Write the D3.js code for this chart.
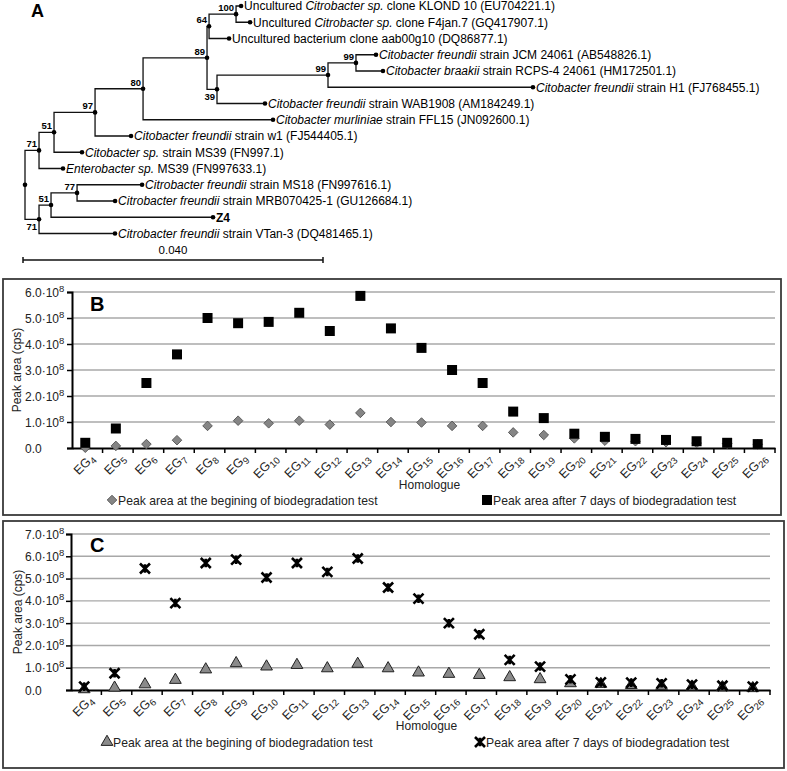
<!DOCTYPE html>
<html>
<head>
<meta charset="utf-8">
<script src="https://cdn.jsdelivr.net/npm/d3@7"></script>
<style>
  body { margin: 0; background: #fff; }
  svg { font-family: "Liberation Sans", Arial, sans-serif; }
</style>
</head>
<body>
<div id="vis"></div>
<script>
const W = 787, H = 771;

// ---- panel A: tree ----
// leaf labels as [plain, italic, plain]
const leafLabels = {
  klond: ['Uncultured ', 'Citrobacter sp.', ' clone KLOND 10 (EU704221.1)'],
  f4jan: ['Uncultured ', 'Citrobacter sp.', ' clone F4jan.7 (GQ417907.1)'],
  aab: ['Uncultured bacterium clone aab00g10 (DQ86877.1)', '', ''],
  jcm: ['', 'Citobacter freundii', ' strain JCM 24061 (AB548826.1)'],
  braakii: ['', 'Citobacter braakii', ' strain RCPS-4 24061 (HM172501.1)'],
  h1: ['', 'Citobacter freundii', ' strain H1 (FJ768455.1)'],
  wab: ['', 'Citobacter freundii', ' strain WAB1908 (AM184249.1)'],
  murliniae: ['', 'Citobacter murliniae', ' strain FFL15 (JN092600.1)'],
  w1: ['', 'Citobacter freundii', ' strain w1 (FJ544405.1)'],
  ms39: ['', 'Citobacter sp.', ' strain MS39 (FN997.1)'],
  entero: ['', 'Enterobacter sp.', ' MS39 (FN997633.1)'],
  ms18: ['', 'Citrobacter freundii', ' strain MS18 (FN997616.1)'],
  mrb: ['', 'Citrobacter freundii', ' strain MRB070425-1 (GU126684.1)'],
  z4: ['Z4', '', ''],
  vtan: ['', 'Citrobacter freundii', ' strain VTan-3 (DQ481465.1)']
}
const leafOrder = ['klond', 'f4jan', 'aab', 'jcm', 'braakii', 'h1', 'wab', 'murliniae',
  'w1', 'ms39', 'entero', 'ms18', 'mrb', 'z4', 'vtan']

// branch lengths (substitutions/site) and bootstrap values
const tree = { id: 'root', len: 0, children: [
  { id: 'n71a', len: 0.00187, boot: 71, children: [
    { id: 'n51a', len: 0.0020, boot: 51, children: [
      { id: 'n97', len: 0.00547, boot: 97, children: [
        { id: 'n80', len: 0.0064, boot: 80, children: [
          { id: 'n89', len: 0.00853, boot: 89, children: [
            { id: 'n64', len: 0.00027, boot: 64, children: [
              { id: 'n100', len: 0.0036, boot: 100, children: [
                { id: 'klond', len: 0.00067 },
                { id: 'f4jan', len: 0.00187 }]},
              { id: 'aab', len: 0.00267 }]},
            { id: 'n39', len: 0.00133, boot: 39, children: [
              { id: 'n99a', len: 0.0148, boot: 99, children: [
                { id: 'n99b', len: 0.00373, boot: 99, children: [
                  { id: 'jcm', len: 0.00267 },
                  { id: 'braakii', len: 0.0036 }]},
                { id: 'h1', len: 0.02733 }]},
              { id: 'wab', len: 0.0064 }]}]},
          { id: 'murliniae', len: 0.01733 }]},
        { id: 'w1', len: 0.0048 }]},
      { id: 'ms39', len: 0.00373 }]},
    { id: 'entero', len: 0.0032 }]},
  { id: 'n71b', len: 0.00187, boot: 71, children: [
    { id: 'n51b', len: 0.0016, boot: 51, children: [
      { id: 'n77', len: 0.00347, boot: 77, children: [
        { id: 'ms18', len: 0.00867 },
        { id: 'mrb', len: 0.00507 }]},
      { id: 'z4', len: 0.0216 }]},
    { id: 'vtan', len: 0.01013 }]}
]}
const scaleBarValue = 0.04

// ---- panels B and C: homologue peak areas (units of 10^8 cps) ----
const homologues = ['4', '5', '6', '7', '8', '9', '10', '11', '12', '13', '14', '15',
  '16', '17', '18', '19', '20', '21', '22', '23', '24', '25', '26']
const startB = [0.01, 0.08, 0.15, 0.30, 0.85, 1.05, 0.95, 1.05, 0.90, 1.35, 1.00, 0.98,
  0.85, 0.85, 0.60, 0.50, 0.37, 0.28, 0.26, 0.22, 0.19, 0.17, 0.14]
const afterB = [0.20, 0.75, 2.50, 3.60, 5.00, 4.80, 4.85, 5.20, 4.50, 5.85, 4.60, 3.85,
  3.00, 2.50, 1.40, 1.15, 0.55, 0.43, 0.35, 0.31, 0.26, 0.20, 0.15]
const startC = [0.03, 0.10, 0.25, 0.45, 0.92, 1.20, 1.05, 1.12, 0.97, 1.17, 0.97, 0.78,
  0.72, 0.67, 0.57, 0.48, 0.30, 0.27, 0.22, 0.18, 0.15, 0.12, 0.08]
const afterC = [0.15, 0.75, 5.45, 3.90, 5.70, 5.85, 5.05, 5.70, 5.30, 5.90, 4.60, 4.10,
  3.00, 2.50, 1.35, 1.05, 0.48, 0.34, 0.33, 0.30, 0.24, 0.19, 0.15]
const yTicksB = [0, 1, 2, 3, 4, 5, 6]
const yTicksC = [0, 1, 2, 3, 4, 5, 6, 7]
const legendStart = 'Peak area at the begining of biodegradation test'
const legendAfter = 'Peak area after 7 days of biodegradation test'

const svg = d3.select('#vis')
  .append('svg')
  .attr('width', W)
  .attr('height', H)

svg.append('rect').attr('width', W).attr('height', H).attr('fill', '#fff')

function drawTree(){
  const g = svg.append('g')

  g.append('text')
    .attr('x', 31).attr('y', 17)
    .style('font-size', '18px').style('font-weight', 'bold')
    .text('A')

  const xTree = d3.scaleLinear().domain([0, scaleBarValue]).range([25, 325])
  const yLeaf = d3.scalePoint().domain(leafOrder).range([6, 233.5])

  const root = d3.hierarchy(tree)
  root.eachBefore(d => d.dist = d.parent ? d.parent.dist + d.data.len : 0)
  root.eachAfter(d => {
    d.py = d.children
      ? (d.children[0].py + d.children[d.children.length - 1].py) / 2
      : yLeaf(d.data.id)
    d.px = xTree(d.dist)
  })

  g.selectAll('.branch')
    .data(root.descendants().filter(d => d.parent))
    .join('path')
    .attr('class', 'branch')
    .attr('d', d => `M${d.parent.px},${d.parent.py}V${d.py}H${d.px}`)
    .attr('fill', 'none')
    .attr('stroke', '#111')
    .attr('stroke-width', 1.3)

  g.selectAll('.node')
    .data(root.descendants())
    .join('circle')
    .attr('class', 'node')
    .attr('cx', d => d.px)
    .attr('cy', d => d.py)
    .attr('r', 2.3)
    .attr('fill', '#000')

  // bootstrap support
  const bootBelow = new Set(['n39', 'n71b'])
  g.selectAll('.boot')
    .data(root.descendants().filter(d => d.data.boot))
    .join('text')
    .attr('class', 'boot')
    .attr('x', d => d.px - 2)
    .attr('y', d => bootBelow.has(d.data.id) ? d.py + 11 : d.py - 3)
    .attr('text-anchor', 'end')
    .style('font-size', '9.5px')
    .style('font-weight', 'bold')
    .text(d => d.data.boot)

  const labels = g.selectAll('.leaf')
    .data(root.leaves())
    .join('text')
    .attr('class', 'leaf')
    .attr('x', d => d.px + 3)
    .attr('y', d => d.py + 4.3)
    .style('font-size', '12px')

  labels.each(function(d){
    const parts = leafLabels[d.data.id]
    const t = d3.select(this)
    if (d.data.id === 'z4') {
      t.append('tspan').style('font-weight', 'bold').text(parts[0])
      return
    }
    if (parts[0]) t.append('tspan').text(parts[0])
    if (parts[1]) t.append('tspan').style('font-style', 'italic').text(parts[1])
    if (parts[2]) t.append('tspan').text(parts[2])
  })

  // scale bar
  const barY = 260
  const sb = g.append('g').attr('transform', 'translate(-2,0)')
  sb.append('line')
    .attr('x1', xTree(0)).attr('x2', xTree(scaleBarValue))
    .attr('y1', barY).attr('y2', barY)
    .attr('stroke', '#111').attr('stroke-width', 1.5)
  sb.selectAll('.sbtick')
    .data([0, scaleBarValue])
    .join('line')
    .attr('x1', d => xTree(d)).attr('x2', d => xTree(d))
    .attr('y1', barY - 3).attr('y2', barY + 3)
    .attr('stroke', '#111').attr('stroke-width', 1.5)
  sb.append('text')
    .attr('x', xTree(scaleBarValue / 2)).attr('y', barY - 6)
    .attr('text-anchor', 'middle')
    .style('font-size', '11.5px')
    .text(d3.format('.3f')(scaleBarValue))
}

const starSymbol = {
  draw(ctx, size){
    const r = Math.sqrt(size) / 2
    ctx.moveTo(-r, -r); ctx.lineTo(r, r)
    ctx.moveTo(r, -r); ctx.lineTo(-r, r)
    ctx.moveTo(0, -r * 0.85); ctx.lineTo(0, r * 0.85)
  }
}

const markers = {
  diamond: sel => sel.attr('d', d3.symbol(d3.symbolSquare, 46)())
    .attr('fill', '#858585').attr('stroke', '#4d4d4d').attr('stroke-width', 0.8)
    .attr('data-rot', 45),
  square: sel => sel.attr('d', d3.symbol(d3.symbolSquare, 100)())
    .attr('fill', '#000'),
  triangle: sel => sel.attr('d', d3.symbol(d3.symbolTriangle, 60)())
    .attr('fill', '#8a8a8a').attr('stroke', '#222').attr('stroke-width', 1),
  star: sel => sel.attr('d', d3.symbol(starSymbol, 100)())
    .attr('fill', 'none').attr('stroke', '#000').attr('stroke-width', 2.6)
}

function place(sel, x, y){
  sel.attr('transform', function(d, i){
    const rot = d3.select(this).attr('data-rot') || 0
    return `translate(${x(d, i)},${y(d, i)}) rotate(${rot})`
  })
}

function drawPanel(p){
  const g = svg.append('g')

  g.append('rect')
    .attr('x', p.frame[0]).attr('y', p.frame[1])
    .attr('width', p.frame[2]).attr('height', p.frame[3])
    .attr('fill', 'none').attr('stroke', '#3a3a3a').attr('stroke-width', 1.8)

  const xScale = d3.scaleBand().domain(homologues).range(p.xRange)
  const yScale = d3.scaleLinear().domain([0, d3.max(p.yTicks)]).range(p.yRange)
  const y0 = yScale(0)

  // grid
  g.selectAll('.grid')
    .data(p.yTicks.filter(v => v > 0))
    .join('line')
    .attr('x1', p.xRange[0]).attr('x2', p.xRange[1])
    .attr('y1', d => yScale(d)).attr('y2', d => yScale(d))
    .attr('stroke', '#a8a8a8').attr('stroke-width', 1.4)

  // y axis
  const yAxis = d3.axisLeft(yScale).tickValues(p.yTicks).tickSize(5).tickFormat('')
  const ya = g.append('g').attr('transform', `translate(${p.xRange[0]},0)`).call(yAxis)
  ya.select('.domain').attr('stroke', '#000').attr('stroke-width', 2)
  ya.selectAll('.tick line').attr('stroke', '#000').attr('stroke-width', 1.5)

  const yl = g.selectAll('.ylab')
    .data(p.yTicks)
    .join('text')
    .attr('class', 'ylab')
    .attr('x', 25)
    .attr('y', d => yScale(d) + 4.5)
    .style('font-size', '12px')
    .style('fill', '#222')
  yl.each(function(d){
    const t = d3.select(this)
    if (d === 0) { t.text('0.0'); return }
    t.append('tspan').text(d3.format('.1f')(d) + '·10')
    t.append('tspan').attr('dy', -5).style('font-size', '9.5px').text('8')
  })

  // x axis
  const xAxis = d3.axisBottom(xScale).tickSize(0).tickFormat('')
  const xa = g.append('g').attr('transform', `translate(0,${y0})`).call(xAxis)
  xa.select('.domain').attr('stroke', '#000').attr('stroke-width', 2)
  g.selectAll('.xtick')
    .data(homologues)
    .join('line')
    .attr('x1', d => xScale(d) + xScale.bandwidth())
    .attr('x2', d => xScale(d) + xScale.bandwidth())
    .attr('y1', y0).attr('y2', y0 + 5)
    .attr('stroke', '#000').attr('stroke-width', 1.5)

  // slanted category labels, each in its own rotated group
  const xl = g.selectAll('.xlab')
    .data(homologues)
    .join('g')
    .attr('class', 'xlab')
    .attr('transform', d => `translate(${xScale(d) + xScale.bandwidth() / 2 + 8},${y0 + 11})`)
    .append('g')
    .attr('transform', 'rotate(-45)')
    .append('text')
    .attr('x', 0).attr('y', 0)
    .attr('text-anchor', 'end')
    .style('font-size', '12.5px')
    .style('fill', '#222')
  xl.append('tspan').text('EG')
  xl.append('tspan').attr('dy', 3).style('font-size', '9.5px').text(d => d)

  // axis titles
  g.append('text')
    .attr('transform', `translate(${p.yTitleX},${(p.yRange[0] + p.yRange[1]) / 2}) rotate(-90)`)
    .attr('text-anchor', 'middle')
    .style('font-size', '12px').style('fill', '#222')
    .text('Peak area (cps)')
  g.append('text')
    .attr('x', (p.xRange[0] + p.xRange[1]) / 2 + 6)
    .attr('y', p.xTitleY)
    .attr('text-anchor', 'middle')
    .style('font-size', '12px').style('fill', '#222')
    .text('Homologue')

  g.append('text')
    .attr('x', 90).attr('y', p.letterY)
    .style('font-size', '20px').style('font-weight', 'bold')
    .text(p.letter)

  const cx = (d, i) => xScale(homologues[i]) + xScale.bandwidth() / 2 - 2

  // series
  g.selectAll('.start')
    .data(p.start)
    .join('path')
    .attr('class', 'start')
    .call(markers[p.startMarker])
    .call(place, cx, d => yScale(d))

  g.selectAll('.after')
    .data(p.after)
    .join('path')
    .attr('class', 'after')
    .call(markers[p.afterMarker])
    .call(place, cx, d => yScale(d))

  // legend
  const legend = [
    { x: p.legendX[0], marker: p.startMarker, text: legendStart },
    { x: p.legendX[1], marker: p.afterMarker, text: legendAfter }
  ]
  legend.forEach(l => {
    g.append('path').datum(0)
      .call(markers[l.marker])
      .call(place, () => l.x, () => p.legendY)
    g.append('text')
      .attr('x', l.x + 6).attr('y', p.legendY + 4.5)
      .style('font-size', '12.2px').style('fill', '#222')
      .text(l.text)
  })
}

drawTree()

drawPanel({
  letter: 'B', letterY: 311,
  frame: [3, 279, 778, 236],
  xRange: [72, 775], yRange: [448, 292],
  yTicks: yTicksB,
  start: startB, after: afterB,
  startMarker: 'diamond', afterMarker: 'square',
  yTitleX: 21, xTitleY: 489,
  legendX: [112, 487], legendY: 500
})

drawPanel({
  letter: 'C', letterY: 552,
  frame: [3, 521, 781, 247],
  xRange: [71, 770], yRange: [690, 534],
  yTicks: yTicksC,
  start: startC, after: afterC,
  startMarker: 'triangle', afterMarker: 'star',
  yTitleX: 22, xTitleY: 730,
  legendX: [107, 480], legendY: 742
})
</script>
</body>
</html>
